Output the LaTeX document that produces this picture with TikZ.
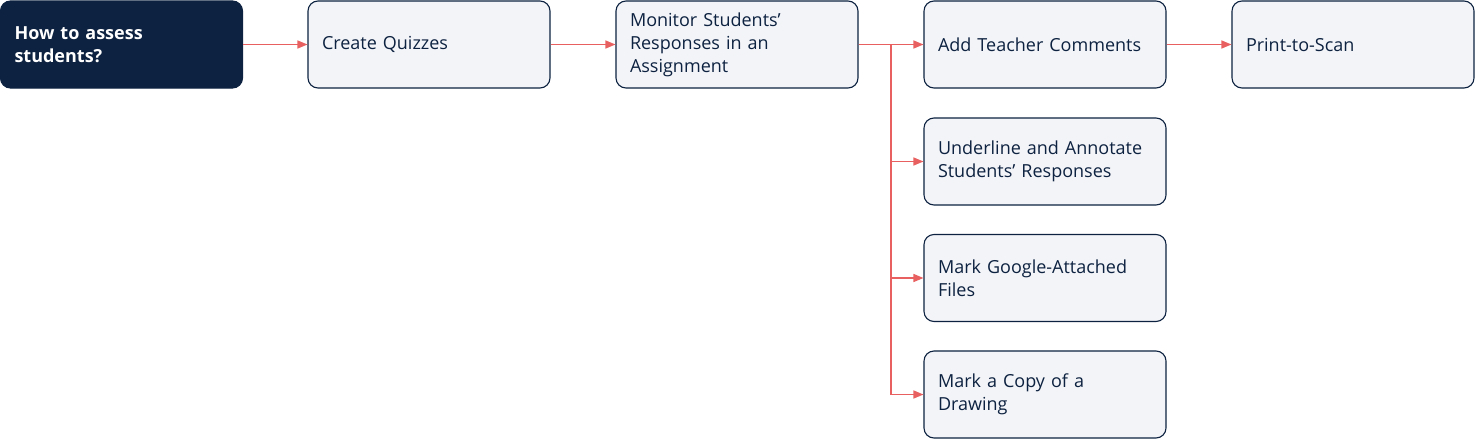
\documentclass[tikz,border=0pt]{standalone}
\usepackage{fontspec}
\setmainfont{Open Sans}
\usetikzlibrary{arrows.meta}
\definecolor{navy}{HTML}{0D2240}
\definecolor{boxfill}{HTML}{F3F4F8}
\definecolor{linkred}{HTML}{E8605F}
\tikzset{
  box/.style={draw=navy, fill=boxfill, line width=1.1pt, rounded corners=10pt,
    text width=214pt, inner xsep=14pt, inner ysep=4pt, minimum height=87pt,
    align=left, text=navy, font=\fontsize{18}{23}\selectfont},
  start/.style={box, fill=navy, text=white, font=\fontsize{18}{23}\selectfont\bfseries},
  link/.style={draw=linkred, line width=1.4pt, -{Triangle[length=10pt,width=8pt]}}
}
\begin{document}
\begin{tikzpicture}[x=1pt,y=-1pt]
  \useasboundingbox (0,0) rectangle (1475,439);
  \node[start] (0) at (121.5,44.5) {How to assess\\students?};
  \node[box] (1) at (429,44.5) {Create Quizzes};
  \node[box] (2) at (737,44.5) {Monitor Students’\\Responses in an\\Assignment};
  \node[box] (3) at (1045,44.5) {Add Teacher Comments};
  \node[box] (4) at (1353,44.5) {Print-to-Scan};
  \node[box] (5) at (1045,161.5) {Underline and Annotate\\Students’ Responses};
  \node[box] (6) at (1045,278) {Mark Google-Attached\\Files};
  \node[box] (7) at (1045,394.5) {Mark a Copy of a\\Drawing};
  \coordinate (fork) at (891,44.5);
  \begin{scope}[link]
    \draw (0) to (1);
    \draw (1) to (2);
    \draw (2) to (3);
    \draw (3) to (4);
    \draw[-] (2.east) to (fork);
    \draw (fork) |- (5.west);
    \draw (fork) |- (6.west);
    \draw (fork) |- (7.west);
  \end{scope}
\end{tikzpicture}
\end{document}
